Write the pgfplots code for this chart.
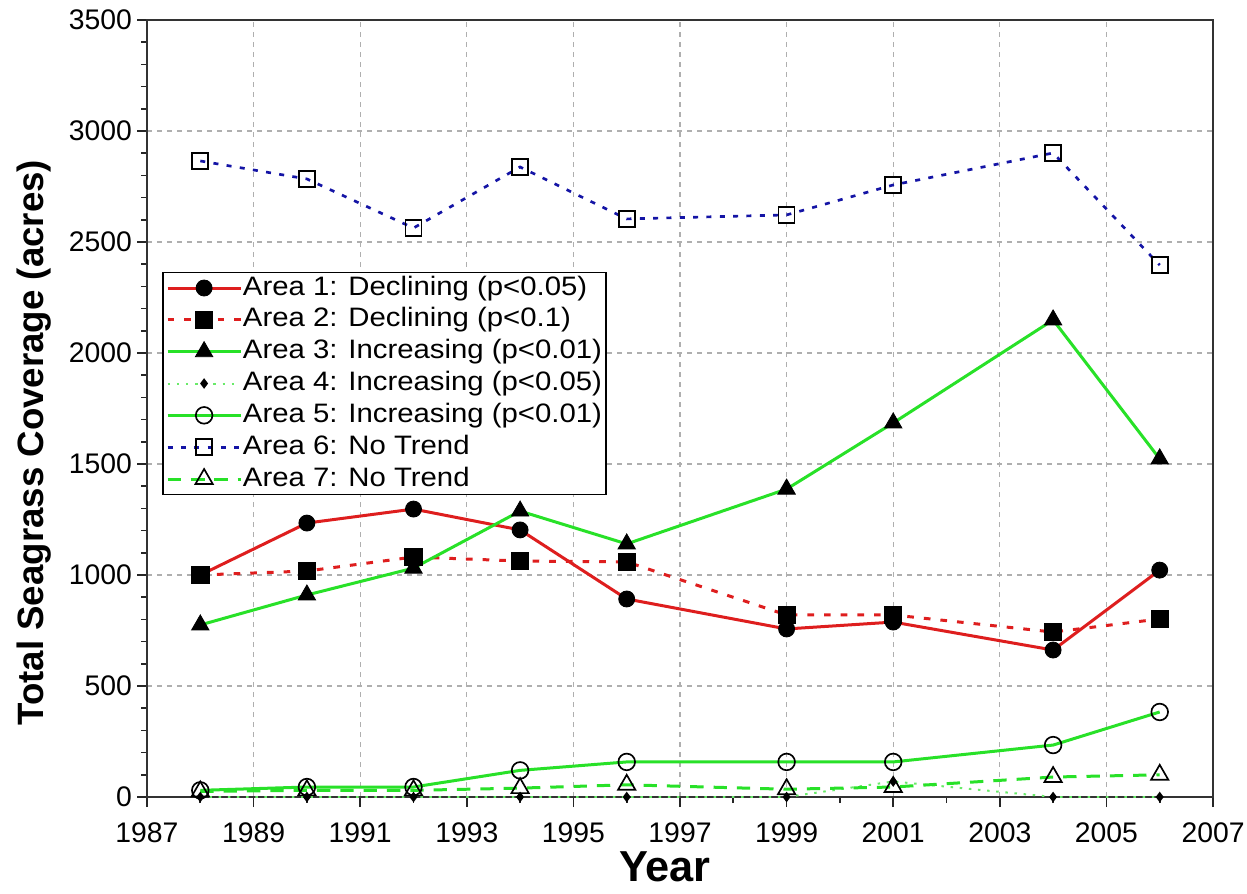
\documentclass[border=0pt]{standalone}
\usepackage{fontspec}
\setmainfont{Liberation Sans}
\newfontfamily\legendfont{Liberation Sans}[FakeStretch=1.1]
\usepackage{pgfplots}
\pgfplotsset{compat=1.18}
\definecolor{cred}{RGB}{222,30,30}
\definecolor{cgreen}{RGB}{40,225,40}
\definecolor{cblue}{RGB}{20,20,165}
\definecolor{cgrid}{RGB}{175,175,175}
\begin{document}
\begin{tikzpicture}
\path[use as bounding box] (-88.2pt,-57.6pt) rectangle (660pt,478.2pt);
\begin{axis}[
  at={(0,0)}, anchor=south west, scale only axis,
  width=639.6pt, height=466.2pt,
  xmin=1987, xmax=2007, ymin=0, ymax=3500,
  xtick={1987,1989,...,2007}, minor xtick={1988,1990,...,2006},
  ytick={0,500,...,3500}, minor ytick={100,200,300,400,600,700,800,900,1100,1200,1300,1400,1600,1700,1800,1900,2100,2200,2300,2400,2600,2700,2800,2900,3100,3200,3300,3400},
  tick pos=left, tick align=outside,
  major tick length=6pt, minor tick length=3.6pt,
  grid=major,
  major grid style={cgrid, line width=0.7pt, dash pattern=on 3pt off 3pt},
  minor grid style={draw=none},
  axis line style={line width=1.2pt, black!80},
  every tick/.style={black!85, line width=1pt},
  /pgf/number format/assume math mode=true,
  /pgf/number format/1000 sep={},
  xticklabel style={font=\fontsize{17}{19}\selectfont, yshift=-6pt},
  yticklabel style={font=\fontsize{17}{19}\selectfont, xshift=0.5pt},
  xlabel={Year},
  xlabel style={font=\fontsize{26}{28}\selectfont\bfseries, at={(rel axis cs:0.486,0)}, anchor=center, yshift=-42pt},
  ylabel={Total Seagrass Coverage (acres)},
  ylabel style={font=\fontsize{22}{25}\selectfont\bfseries, at={(rel axis cs:0,0.456)}, anchor=center, yshift=68pt},
  legend style={at={(rel axis cs:0.014,0.676)}, anchor=north west, draw=black, line width=1pt,
    font=\legendfont\fontsize{16}{18}\selectfont, inner xsep=2pt, inner ysep=1pt, row sep=2.6pt,
    nodes={inner sep=0.5pt, text height=12pt, text depth=3.5pt}, cells={anchor=west}},
  legend image code/.code={\draw[mark repeat=2,mark phase=2] plot coordinates {(0cm,0cm) (0.77cm,0cm) (1.54cm,0cm)};},
]
\addplot[cred, line width=1.8pt, mark=*, mark size=4.8pt, mark options={solid, fill=black, draw=black, line width=0.5pt}] coordinates {
(1988,1000) (1990,1234) (1992,1297) (1994,1203) (1996,892) (1999,757) (2001,788) (2004,662) (2006,1022)};
\addlegendentry{Area 1: Declining (p<0.05)}
\addplot[cred, line width=1.8pt, dash pattern=on 4pt off 6pt, mark=square*, mark size=5.2pt, mark options={solid, fill=black, draw=black, line width=0.5pt}] coordinates {
(1988,1000) (1990,1018) (1992,1081) (1994,1063) (1996,1059) (1999,820) (2001,820) (2004,743) (2006,802)};
\addlegendentry{Area 2: Declining (p<0.1)}
\addplot[cgreen, line width=1.8pt, mark=triangle*, mark size=6pt, mark options={solid, fill=black, draw=black, line width=0.5pt}] coordinates {
(1988,775) (1990,910) (1992,1031) (1994,1288) (1996,1140) (1999,1387) (2001,1685) (2004,2149) (2006,1523)};
\addlegendentry{Area 3: Increasing (p<0.01)}
\addplot[cgreen!70, line width=1.2pt, dash pattern=on 1.5pt off 4pt, mark=diamond*, mark size=2.2pt, mark options={solid, fill=black, draw=black}] coordinates {
(1988,0) (1990,0) (1992,0) (1994,0) (1996,0) (1999,0) (2001,70) (2004,0) (2006,0)};
\addlegendentry{Area 4: Increasing (p<0.05)}
\addplot[cgreen, line width=1.8pt, mark=o, mark size=5pt, mark options={solid, fill=white, draw=black, line width=1pt}] coordinates {
(1988,30) (1990,45) (1992,45) (1994,120) (1996,158) (1999,158) (2001,158) (2004,234) (2006,383)};
\addlegendentry{Area 5: Increasing (p<0.01)}
\addplot[cblue, line width=1.6pt, dash pattern=on 3pt off 5pt, mark=square, mark size=4.8pt, mark options={solid, draw=black, line width=1pt}] coordinates {
(1988,2865) (1990,2784) (1992,2563) (1994,2838) (1996,2604) (1999,2622) (2001,2757) (2004,2901) (2006,2396)};
\addlegendentry{Area 6: No Trend}
\addplot[cgreen, line width=1.8pt, dash pattern=on 8pt off 6pt, mark=triangle, mark size=6pt, mark options={solid, fill=white, draw=black, line width=1pt}] coordinates {
(1988,25) (1990,30) (1992,30) (1994,40) (1996,55) (1999,35) (2001,45) (2004,90) (2006,100)};
\addlegendentry{Area 7: No Trend}
\end{axis}
\end{tikzpicture}
\end{document}
